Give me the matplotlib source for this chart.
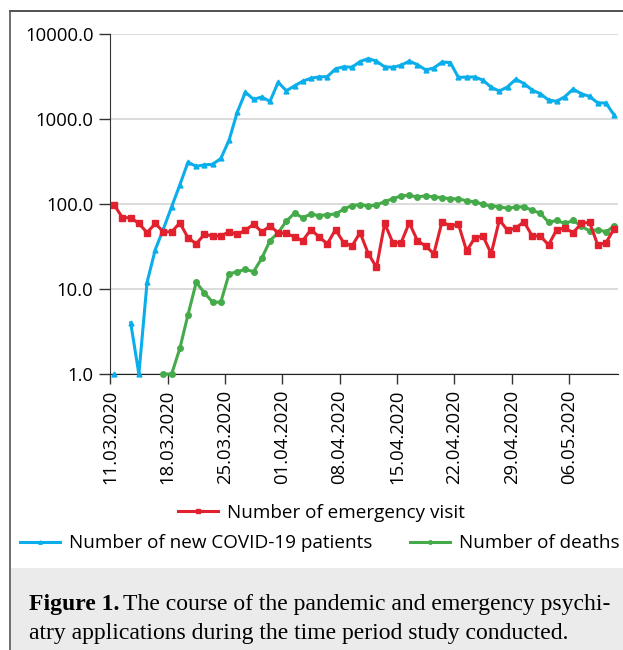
import datetime
import matplotlib
matplotlib.use("Agg")
import matplotlib.pyplot as plt
import numpy as np
from matplotlib.lines import Line2D
from matplotlib.patches import Rectangle
from matplotlib.ticker import FixedLocator, NullLocator

# daily values, 11.03.2020 - 11.05.2020
start = datetime.date(2020, 3, 11)
emergency = [97, 69, 69, 59, 46, 59, 47, 47, 60, 40, 34, 44, 42, 42, 47, 44, 49, 58, 47, 55,
             46, 45, 41, 37, 50, 41, 34, 50, 35, 32, 46, 26, 18, 59, 35, 35, 60, 37, 32, 26,
             62, 55, 58, 28, 40, 42, 26, 65, 49, 52, 62, 42, 42, 33, 50, 52, 46, 59, 61, 33,
             35, 51]
new_cases = [1, np.nan, 4, 1, 12, 29, 51, 93, 168, 311, 277, 289, 293, 343, 561, 1196, 2069,
             1704, 1815, 1610, 2704, 2148, 2456, 2786, 3013, 3135, 3148, 3892, 4117, 4056,
             4747, 5138, 4789, 4093, 4062, 4281, 4801, 4353, 3783, 3977, 4674, 4611, 3083,
             3116, 3122, 2861, 2357, 2131, 2392, 2936, 2615, 2188, 1983, 1670, 1614, 1832,
             2253, 1977, 1848, 1546, 1542, 1114]
deaths = [np.nan] * 6 + [1, 1, 2, 5, 12, 9, 7, 7, 15, 16, 17, 16, 23, 37, 46, 63, 78, 69, 76,
                         73, 75, 76, 87, 96, 98, 95, 97, 107, 115, 125, 126, 121, 125, 121,
                         119, 115, 115, 109, 106, 99, 95, 93, 89, 92, 93, 84, 78, 61, 64, 59,
                         64, 55, 48, 50, 47, 55]
y_ticks = [1, 10, 100, 1000, 10000]

RED = "#e2212e"
BLUE = "#0aaeea"
GREEN = "#45ab4a"
font = "Open Sans"

x = np.arange(len(emergency))
tick_idx = np.arange(0, len(x), 7)
tick_lab = [(start + datetime.timedelta(days=int(i))).strftime("%d.%m.%Y") for i in tick_idx]

fig = plt.figure(figsize=(6.23, 6.5), dpi=100)
ax = fig.add_axes([110.2 / 623, 1 - 374 / 650, 508 / 623, 340 / 650])

ax.plot(x, new_cases, color=BLUE, lw=2.2, marker="^", ms=3.5, clip_on=False, zorder=3)
ax.plot(x, deaths, color=GREEN, lw=2.2, marker="o", ms=4, clip_on=False, zorder=4)
ax.plot(x, emergency, color=RED, lw=2.2, marker="s", ms=4.5, clip_on=False, zorder=5)

ax.set_yscale("log")
ax.set_ylim(1, 10000)
ax.yaxis.set_major_locator(FixedLocator(y_ticks))
ax.yaxis.set_minor_locator(NullLocator())
ax.set_yticklabels(["%.1f" % v for v in y_ticks], fontfamily=font, fontsize=13.3)
ax.set_xlim(-0.5, len(x) - 0.5)
ax.set_xticks(tick_idx - 0.5)
ax.set_xticklabels(tick_lab, rotation=90, fontfamily=font, fontsize=13.3)
ax.tick_params(axis="y", length=8, width=1, color="#333", pad=4)
ax.tick_params(axis="x", length=7.5, width=1, color="#333", pad=4)
ax.yaxis.grid(True, color="#d9d9d9", lw=1.3)
ax.set_axisbelow(True)
for s in ["top", "right"]:
    ax.spines[s].set_visible(False)
ax.spines["left"].set_color("#333")
ax.spines["bottom"].set_color("#222")

h_red = Line2D([], [], color=RED, lw=2.2, marker="s", ms=3)
h_blue = Line2D([], [], color=BLUE, lw=2.2, marker="^", ms=2.5)
h_green = Line2D([], [], color=GREEN, lw=2.2, marker="o", ms=2.5)
leg_kw = dict(frameon=False, prop={"family": font, "size": 13.6}, handlelength=2.1,
              handletextpad=0.5, borderpad=0, numpoints=1, loc="center",
              bbox_transform=fig.transFigure)
fig.legend([h_red], ["Number of emergency visit"], bbox_to_anchor=(321.5 / 623, 1 - 512.7 / 650), **leg_kw)
fig.legend([h_blue, h_green], ["Number of new COVID-19 patients", "Number of deaths"], ncol=2,
           columnspacing=2.0, bbox_to_anchor=(320 / 623, 1 - 543.3 / 650), **leg_kw)

# frame and caption box
fig.add_artist(Line2D([10 / 623, 1], [1 - 11 / 650] * 2, transform=fig.transFigure, color="#333", lw=1.2))
fig.add_artist(Line2D([10 / 623] * 2, [0, 1 - 11 / 650], transform=fig.transFigure, color="#555", lw=1.2))
fig.add_artist(Rectangle((10.5 / 623, 0), 1, (650 - 568) / 650, transform=fig.transFigure,
                         facecolor="#ebebeb", edgecolor="none", zorder=0))

cap_kw = dict(fontfamily="Liberation Serif", fontsize=17, va="baseline")
t1 = fig.text(28.6 / 623, 1 - 610 / 650, "Figure 1.", fontweight="bold", **cap_kw)
fig.canvas.draw()
bb = t1.get_window_extent()
fig.text((bb.x1 + 4) / 623, 1 - 610 / 650, "The course of the pandemic and emergency psychi-", **cap_kw)
fig.text(28.6 / 623, 1 - 639 / 650, "atry applications during the time period study conducted.", **cap_kw)

fig.savefig("out.png", dpi=100)
